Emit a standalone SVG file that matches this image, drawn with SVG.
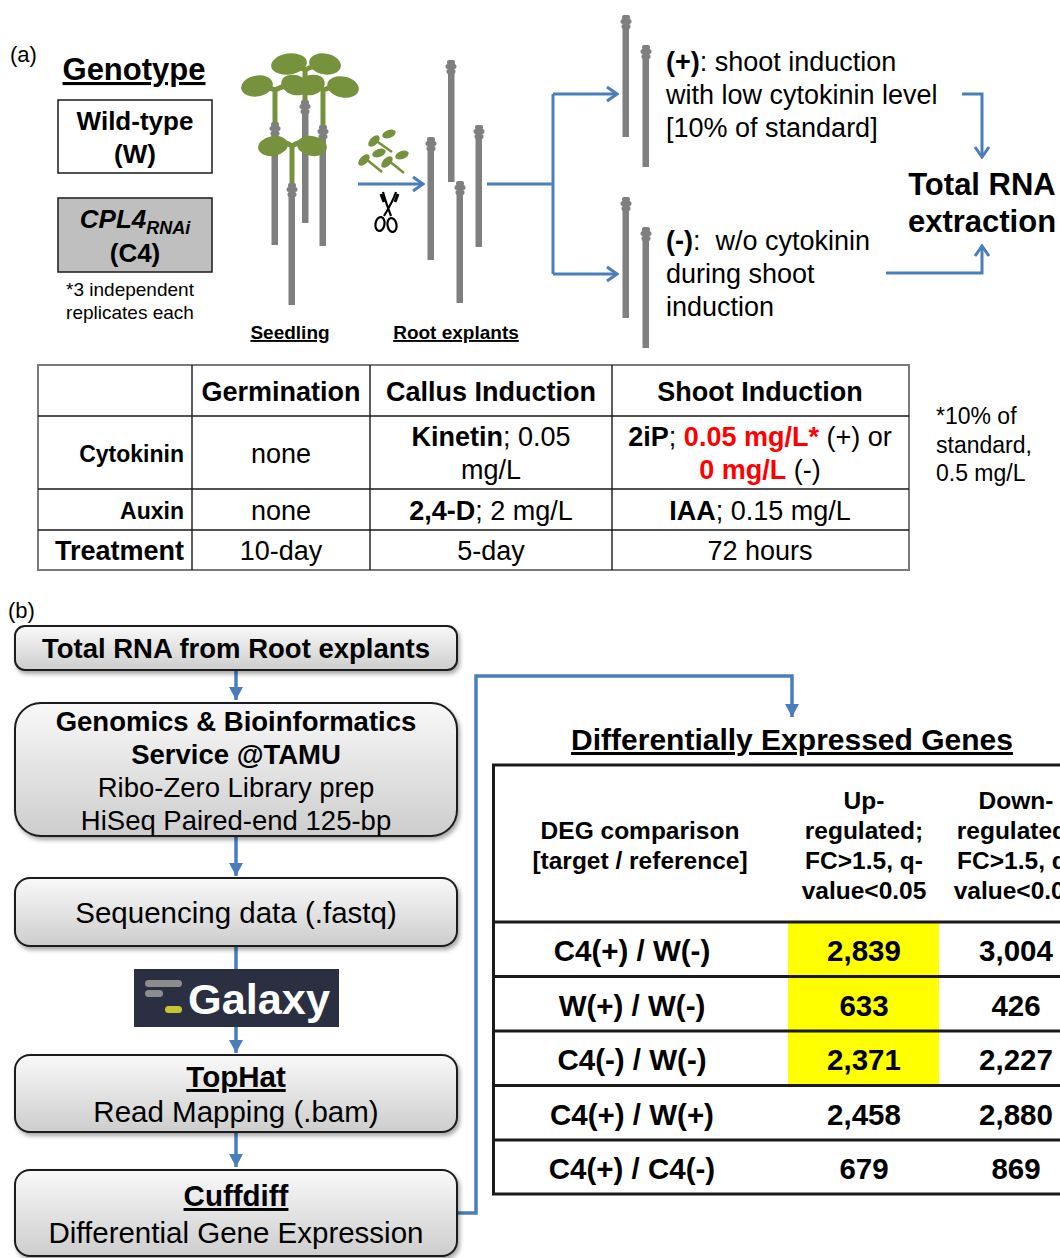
<svg xmlns="http://www.w3.org/2000/svg" width="1060" height="1258" viewBox="0 0 1060 1258">
  <defs>
    <style>
      text { font-family: "Liberation Sans", Arial, sans-serif; fill: #000; }
      .b { font-weight: bold; }
      .u { text-decoration: underline; }
      .mid { text-anchor: middle; }
      .end { text-anchor: end; }
      .red { fill: #ff0000; font-weight: bold; }
      .stem { fill: #7f7f7f; }
      .sprout { stroke: #76923c; stroke-width: 5; fill: none; }
      .leaf { fill: #76923c; }
      .link { fill: none; stroke: #4a7ebb; stroke-width: 3; }
      .flow { fill: none; stroke: #4a7ebb; stroke-width: 3.5; }
      .box { fill: url(#boxFill); stroke: #1a1a1a; stroke-width: 2; filter: url(#shadow); }
      .grid { stroke: #1a1a1a; stroke-width: 1.4; }
      .deg { stroke: #1a1a1a; stroke-width: 3; }
    </style>
    <linearGradient id="boxFill" x1="0" y1="0" x2="0" y2="1">
      <stop offset="0" stop-color="#f9f9f9"/>
      <stop offset="1" stop-color="#cdcdcd"/>
    </linearGradient>
    <filter id="shadow" x="-5%" y="-10%" width="115%" height="130%">
      <feDropShadow dx="2" dy="3" stdDeviation="2" flood-color="#000" flood-opacity="0.35"/>
    </filter>
    <marker id="chev" viewBox="-12 -9 14 18" markerWidth="14" markerHeight="18" refX="0" refY="0" orient="auto" markerUnits="userSpaceOnUse">
      <path d="M-10,-7 L0,0 L-10,7" fill="none" stroke="#4a7ebb" stroke-width="3"/>
    </marker>
    <marker id="tri" viewBox="-13 -8 14 16" markerWidth="14" markerHeight="16" refX="0" refY="0" orient="auto" markerUnits="userSpaceOnUse">
      <path d="M-13,-7 L0,0 L-13,7 Z" fill="#4a7ebb"/>
    </marker>
    <!-- knotted top of a cut root segment -->
    <g id="knob" class="stem">
      <rect x="-4" y="0" width="8" height="5" rx="2"/>
      <rect x="-5.5" y="4" width="11" height="5" rx="2.5"/>
      <rect x="-4.5" y="9" width="9" height="5" rx="2"/>
    </g>
  </defs>

  <!-- ===== panel (a) ===== -->
  <text x="10" y="62" font-size="22">(a)</text>

  <g id="genotype">
    <text x="134" y="80" font-size="31" class="b u mid">Genotype</text>
  </g>
  <g id="wild-type">
    <rect x="58" y="100" width="154" height="73" fill="#fff" stroke="#1a1a1a" stroke-width="1.5"/>
    <text x="135" y="130" font-size="26" class="b mid">Wild-type</text>
    <text x="135" y="163" font-size="26" class="b mid">(W)</text>
  </g>
  <g id="cpl4">
    <rect x="58" y="198" width="154" height="74" fill="#bfbfbf" stroke="#1a1a1a" stroke-width="1.5"/>
    <text x="135" y="228" font-size="26" class="b mid" font-style="italic">CPL4<tspan font-size="18" dy="6">RNAi</tspan></text>
    <text x="135" y="262" font-size="26" class="b mid">(C4)</text>
  </g>
  <g id="replicates-note">
    <text x="130" y="296" font-size="19" class="mid">*3 independent</text>
    <text x="130" y="319" font-size="19" class="mid">replicates each</text>
  </g>

  <!-- seedlings -->
  <g id="seedlings">
    <!-- back plant -->
    <path class="sprout" d="M305,102 V70 M305,70 Q298,66 292,66 M305,70 Q312,66 318,66"/>
    <ellipse class="leaf" cx="289" cy="64" rx="18" ry="10.5" transform="rotate(-8 289 64)"/>
    <ellipse class="leaf" cx="325" cy="64" rx="16" ry="10.5" transform="rotate(10 325 64)"/>
    <rect class="stem" x="302" y="112" width="6.5" height="111"/>
    <use href="#knob" x="305" y="100"/>
    <!-- left and right plants -->
    <path class="sprout" d="M275,124 V88 M275,90 Q266,86 260,87 M275,90 Q285,85 292,85"/>
    <path class="sprout" d="M323,127 V88 M323,90 Q315,85 311,85 M323,90 Q333,86 340,87"/>
    <ellipse class="leaf" cx="257" cy="86" rx="16" ry="10.5" transform="rotate(-10 257 86)"/>
    <ellipse class="leaf" cx="343" cy="87" rx="16" ry="10.5" transform="rotate(12 343 87)"/>
    <ellipse class="leaf" cx="295" cy="85" rx="14" ry="10" transform="rotate(15 295 85)"/>
    <ellipse class="leaf" cx="311" cy="85" rx="14" ry="10" transform="rotate(-15 311 85)"/>
    <rect class="stem" x="271.5" y="134" width="6.5" height="111"/>
    <use href="#knob" x="275" y="122"/>
    <rect class="stem" x="319.5" y="137" width="6.5" height="109"/>
    <use href="#knob" x="323" y="125"/>
    <!-- front plant -->
    <path class="sprout" d="M292,185 V144 M292,146 Q284,141 278,142 M292,146 Q300,141 306,142"/>
    <ellipse class="leaf" cx="273" cy="146" rx="15" ry="10" transform="rotate(-10 273 146)"/>
    <ellipse class="leaf" cx="312" cy="146" rx="15" ry="10" transform="rotate(10 312 146)"/>
    <rect class="stem" x="288.5" y="195" width="6.5" height="110"/>
    <use href="#knob" x="292" y="183"/>
  </g>

  <!-- cut shoots and scissors -->
  <g id="cut-shoots">
    <path d="M375,140 L392,152 M366,159 L382,172 M389,161 L404,173" stroke="#76923c" stroke-width="2.5" fill="none"/>
    <ellipse class="leaf" cx="374" cy="141" rx="7" ry="4" transform="rotate(-45 374 141)"/>
    <ellipse class="leaf" cx="389" cy="134" rx="7" ry="4" transform="rotate(-20 389 134)"/>
    <ellipse class="leaf" cx="364" cy="160" rx="7" ry="4" transform="rotate(-45 364 160)"/>
    <ellipse class="leaf" cx="379" cy="153" rx="7" ry="4" transform="rotate(-20 379 153)"/>
    <ellipse class="leaf" cx="387" cy="162" rx="7" ry="4" transform="rotate(-45 387 162)"/>
    <ellipse class="leaf" cx="402" cy="155" rx="7" ry="4" transform="rotate(-20 402 155)"/>
  </g>
  <g id="scissors" fill="#fff" stroke="#000" stroke-width="2.2">
    <path d="M383,192 Q385,200 391,216 M396,192 Q393,201 384,216" fill="none"/>
    <path d="M381,194 L384,202 M398,194 L395,202" fill="none" stroke-width="3"/>
    <ellipse cx="380" cy="224" rx="4.5" ry="7" transform="rotate(10 380 224)"/>
    <ellipse cx="392" cy="225" rx="4.5" ry="7" transform="rotate(-10 392 225)"/>
  </g>

  <!-- root explants -->
  <g id="root-explants">
    <rect class="stem" x="448" y="72" width="6.5" height="110"/>
    <use href="#knob" x="451" y="60"/>
    <rect class="stem" x="427.5" y="149" width="6.5" height="111"/>
    <use href="#knob" x="431" y="137"/>
    <rect class="stem" x="475.5" y="137" width="6.5" height="110"/>
    <use href="#knob" x="479" y="125"/>
    <rect class="stem" x="456.5" y="193" width="6.5" height="110"/>
    <use href="#knob" x="460" y="181"/>
  </g>

  <!-- shoot-induction explants -->
  <g id="explants-plus">
    <rect class="stem" x="622.5" y="27" width="6.5" height="110"/>
    <use href="#knob" x="626" y="15"/>
    <rect class="stem" x="642.5" y="57" width="6.5" height="110"/>
    <use href="#knob" x="646" y="45"/>
  </g>
  <g id="explants-minus">
    <rect class="stem" x="622.5" y="209" width="6.5" height="109"/>
    <use href="#knob" x="626" y="197"/>
    <rect class="stem" x="642.5" y="239" width="6.5" height="109"/>
    <use href="#knob" x="646" y="227"/>
  </g>

  <g id="labels-a">
    <text x="290" y="339" font-size="19" class="b u mid">Seedling</text>
    <text x="456" y="339" font-size="19" class="b u mid">Root explants</text>
  </g>

  <g id="plus-condition" font-size="27">
    <text x="666" y="71"><tspan class="b">(+)</tspan>: shoot induction</text>
    <text x="666" y="104">with low cytokinin level</text>
    <text x="666" y="137">[10% of standard]</text>
  </g>
  <g id="minus-condition" font-size="27">
    <text x="666" y="250"><tspan class="b">(-)</tspan>:&#160; w/o cytokinin</text>
    <text x="666" y="283">during shoot</text>
    <text x="666" y="316">induction</text>
  </g>
  <g id="rna-extraction">
    <text x="982" y="195" font-size="31" class="b mid">Total RNA</text>
    <text x="982" y="232" font-size="31" class="b mid">extraction</text>
  </g>

  <!-- connectors of panel (a) -->
  <g id="connectors-a">
    <path class="link" d="M358,184 H423" marker-end="url(#chev)"/>
    <path class="link" d="M487,184 H553"/>
    <path class="link" d="M553,94 V274"/>
    <path class="link" d="M553,94 H617" marker-end="url(#chev)"/>
    <path class="link" d="M553,274 H617" marker-end="url(#chev)"/>
    <path class="link" d="M962,94 H982 V157" marker-end="url(#chev)"/>
    <path class="link" d="M886,273 H982 V246" marker-end="url(#chev)"/>
  </g>

  <!-- culture conditions table -->
  <g id="conditions-table">
    <rect x="38" y="365" width="871" height="205" fill="#fff" stroke="#7a7a7a" stroke-width="2"/>
    <path class="grid" d="M192,365 V570 M370,365 V570 M612,365 V570 M38,416 H909 M38,489 H909 M38,530 H909"/>
    <g font-size="27" class="b">
      <text x="281" y="401" class="mid">Germination</text>
      <text x="491" y="401" class="mid">Callus Induction</text>
      <text x="760" y="401" class="mid">Shoot Induction</text>
    </g>
    <text x="184" y="462" font-size="23" class="b end">Cytokinin</text>
    <text x="184" y="519" font-size="23" class="b end">Auxin</text>
    <text x="184" y="560" font-size="27" class="b end">Treatment</text>
    <g font-size="27">
      <text x="281" y="463" class="mid">none</text>
      <text x="491" y="446" class="mid"><tspan class="b">Kinetin</tspan>; 0.05</text>
      <text x="491" y="479" class="mid">mg/L</text>
      <text x="760" y="446" class="mid"><tspan class="b">2iP</tspan>; <tspan class="red">0.05 mg/L*</tspan> (+) or</text>
      <text x="760" y="479" class="mid"><tspan class="red">0 mg/L</tspan> (-)</text>
      <text x="281" y="520" class="mid">none</text>
      <text x="491" y="520" class="mid"><tspan class="b">2,4-D</tspan>; 2 mg/L</text>
      <text x="760" y="520" class="mid"><tspan class="b">IAA</tspan>; 0.15 mg/L</text>
      <text x="281" y="560" class="mid">10-day</text>
      <text x="491" y="560" class="mid">5-day</text>
      <text x="760" y="560" class="mid">72 hours</text>
    </g>
  </g>
  <g id="standard-note" font-size="23">
    <text x="936" y="424">*10% of</text>
    <text x="936" y="453">standard,</text>
    <text x="936" y="481">0.5 mg/L</text>
  </g>

  <!-- ===== panel (b) ===== -->
  <text x="8" y="618" font-size="22">(b)</text>

  <!-- pipeline connectors -->
  <g id="connectors-b">
    <path class="flow" d="M236,671 V700" marker-end="url(#tri)"/>
    <path class="flow" d="M236,837 V876" marker-end="url(#tri)"/>
    <path class="flow" d="M236,947 V970"/>
    <path class="flow" d="M236,1027 V1053" marker-end="url(#tri)"/>
    <path class="flow" d="M236,1133 V1167" marker-end="url(#tri)"/>
    <path class="flow" d="M458,1213 H476 V676 H792 V717" marker-end="url(#tri)"/>
  </g>

  <g id="total-rna">
    <rect class="box" x="15" y="626" width="442" height="44" rx="10"/>
    <text x="236" y="658" font-size="27.5" class="b mid">Total RNA from Root explants</text>
  </g>
  <g id="sequencing-service">
    <rect class="box" x="15" y="703" width="442" height="133" rx="26"/>
    <text x="236" y="731" font-size="27.5" class="b mid">Genomics &amp; Bioinformatics</text>
    <text x="236" y="764" font-size="27.5" class="b mid">Service @TAMU</text>
    <text x="236" y="797" font-size="27.5" class="mid">Ribo-Zero Library prep</text>
    <text x="236" y="830" font-size="27.5" class="mid">HiSeq Paired-end 125-bp</text>
  </g>
  <g id="sequencing-data">
    <rect class="box" x="15" y="878" width="442" height="68" rx="15"/>
    <text x="236" y="923" font-size="29.5" class="mid">Sequencing data (.fastq)</text>
  </g>
  <g id="galaxy">
    <rect x="134" y="969" width="205" height="58" fill="#2a3042"/>
    <rect x="145" y="980" width="37" height="7" rx="3.5" fill="#8c8c8c"/>
    <rect x="145" y="990" width="18" height="7" rx="3.5" fill="#8c8c8c"/>
    <rect x="165" y="1006" width="17" height="7" rx="3.5" fill="#c8c432"/>
    <text x="188" y="1014" font-size="42" class="b" textLength="142" lengthAdjust="spacingAndGlyphs" style="fill:#fff">Galaxy</text>
  </g>
  <g id="tophat">
    <rect class="box" x="15" y="1055" width="442" height="77" rx="15"/>
    <text x="236" y="1087" font-size="29.5" class="b u mid">TopHat</text>
    <text x="236" y="1122" font-size="29.5" class="mid">Read Mapping (.bam)</text>
  </g>
  <g id="cuffdiff">
    <rect class="box" x="15" y="1170" width="442" height="86" rx="15"/>
    <text x="236" y="1206" font-size="29.5" class="b u mid">Cuffdiff</text>
    <text x="236" y="1243" font-size="29.5" class="mid">Differential Gene Expression</text>
  </g>

  <!-- differentially expressed genes table -->
  <g id="deg-table">
    <text x="792" y="750" font-size="30" class="b u mid">Differentially Expressed Genes</text>
    <rect x="788" y="923" width="151" height="162" fill="#ffff00"/>
    <path class="deg" d="M492,765 H1062 M492,922 H1062 M492,976.5 H1062 M492,1031 H1062 M492,1085.5 H1062 M492,1140 H1062 M492,1194 H1062 M493.5,765 V1194"/>
    <g font-size="24.5" class="b mid">
      <text x="640" y="839">DEG comparison</text>
      <text x="640" y="869">[target / reference]</text>
      <text x="864" y="809">Up-</text>
      <text x="864" y="839">regulated;</text>
      <text x="864" y="869">FC&gt;1.5, q-</text>
      <text x="864" y="899">value&lt;0.05</text>
      <text x="1016" y="809">Down-</text>
      <text x="1016" y="839">regulated;</text>
      <text x="1016" y="869">FC&gt;1.5, q-</text>
      <text x="1016" y="899">value&lt;0.05</text>
    </g>
    <g font-size="29.5" class="b mid">
      <text x="632" y="961">C4(+) / W(-)</text>
      <text x="864" y="961">2,839</text>
      <text x="1016" y="961">3,004</text>
      <text x="632" y="1016">W(+) / W(-)</text>
      <text x="864" y="1016">633</text>
      <text x="1016" y="1016">426</text>
      <text x="632" y="1070">C4(-) / W(-)</text>
      <text x="864" y="1070">2,371</text>
      <text x="1016" y="1070">2,227</text>
      <text x="632" y="1125">C4(+) / W(+)</text>
      <text x="864" y="1125">2,458</text>
      <text x="1016" y="1125">2,880</text>
      <text x="632" y="1179">C4(+) / C4(-)</text>
      <text x="864" y="1179">679</text>
      <text x="1016" y="1179">869</text>
    </g>
  </g>
</svg>
